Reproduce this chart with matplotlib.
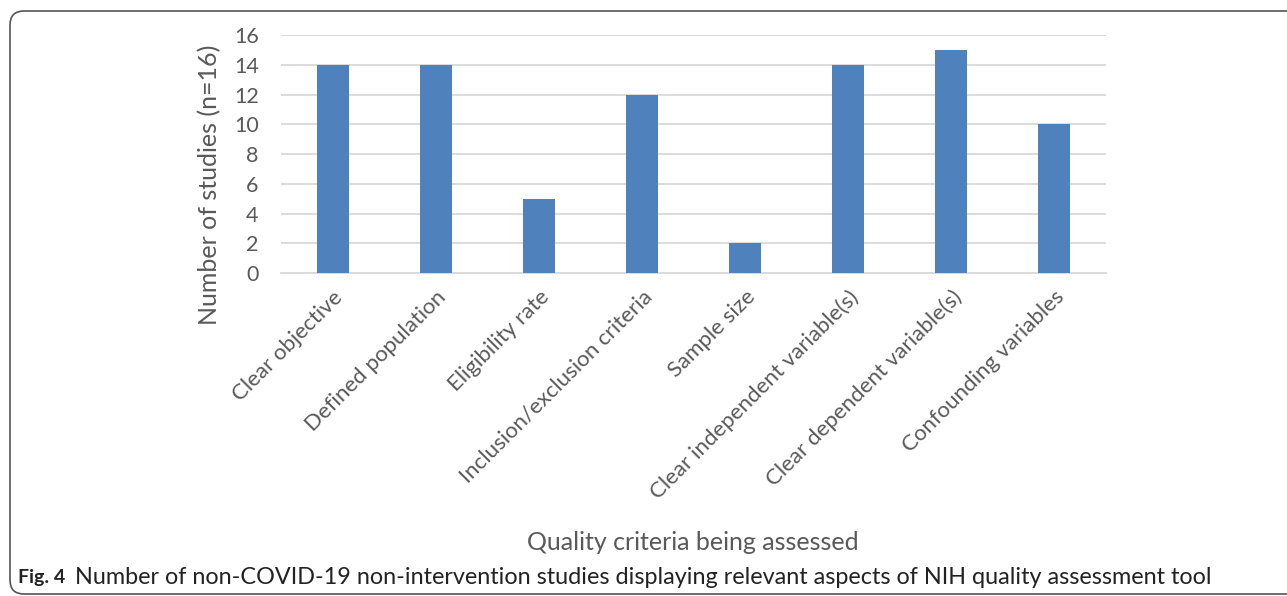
import matplotlib
matplotlib.use("Agg")
import matplotlib.pyplot as plt
from matplotlib.patches import FancyBboxPatch

categories = [
    "Clear objective",
    "Defined population",
    "Eligibility rate",
    "Inclusion/exclusion criteria",
    "Sample size",
    "Clear independent variable(s)",
    "Clear dependent variable(s)",
    "Confounding variables",
]
counts = [14, 14, 5, 12, 2, 14, 15, 10]
y_ticks = [0, 2, 4, 6, 8, 10, 12, 14, 16]

BAR = "#4F81BD"
GRID = "#D9D9D9"
TEXT = "#595959"

plt.rcParams["font.family"] = ["Lato", "DejaVu Sans"]

fig = plt.figure(figsize=(12.87, 5.96), dpi=100)
ax = fig.add_axes([0.2183, 0.5419, 0.6411, 0.3993])

x = range(len(categories))
ax.bar(x, counts, width=0.31, color=BAR, zorder=3)
ax.set_xlim(-0.5, len(categories) - 0.5)
ax.set_ylim(0, 16)
ax.set_yticks(y_ticks)
ax.yaxis.grid(True, color=GRID, linewidth=1.3, zorder=0)
ax.set_xticks(list(x))
ax.set_xticklabels(categories, rotation=45, ha="right", rotation_mode="anchor",
                   fontsize=16, color=TEXT)
for lbl in ax.get_yticklabels():
    lbl.set_fontsize(15.5)
    lbl.set_color(TEXT)
ax.tick_params(axis="y", length=0, pad=16)
ax.tick_params(axis="x", length=0, pad=10)
for s in ax.spines.values():
    s.set_visible(False)
ax.spines["bottom"].set_visible(True)
ax.spines["bottom"].set_color(GRID)
ax.spines["bottom"].set_linewidth(1.3)

ax.set_ylabel("Number of studies (n=16)", fontsize=18, color=TEXT)
ax.yaxis.set_label_coords(-0.072, 0.37)
fig.text(693 / 1287, 1 - 543 / 596, "Quality criteria being assessed",
         fontsize=18, color=TEXT, ha="center", va="center")

# caption
fig.text(18 / 1287, 1 - 577 / 596, "Fig. 4", fontsize=14, fontweight="bold",
         color="#222222", va="center")
fig.text(75 / 1287, 1 - 577 / 596,
         "Number of non-COVID-19 non-intervention studies displaying relevant aspects of NIH quality assessment tool",
         fontsize=16.8, color="#222222", va="center")

# rounded frame
frame = FancyBboxPatch((0.10, 0.02), 13.5, 5.83, boxstyle="round,pad=0,rounding_size=0.14",
                       transform=fig.dpi_scale_trans, fill=False, edgecolor="#555555",
                       linewidth=1.2)
fig.add_artist(frame)

fig.savefig("out.png", dpi=100, facecolor="white")
